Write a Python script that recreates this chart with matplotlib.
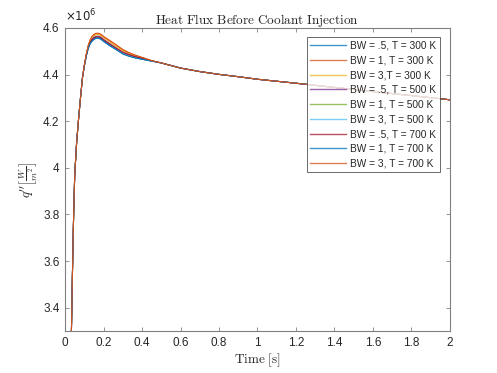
import matplotlib
matplotlib.use("Agg")
import matplotlib.pyplot as plt
from matplotlib.ticker import FuncFormatter, MultipleLocator

plt.rcParams['font.family'] = ['Liberation Sans', 'DejaVu Sans']

# time grid [s]
t_rise = [0.032, 0.035, 0.038, 0.042, 0.045, 0.05, 0.06, 0.07, 0.08, 0.09]
t_mid = [0.10, 0.11, 0.12, 0.13, 0.14, 0.15, 0.16, 0.17, 0.18, 0.19, 0.20,
         0.235, 0.26, 0.30, 0.33, 0.36, 0.40, 0.45]
t_tail = [0.50, 0.60, 0.70, 0.80, 0.90, 1.00, 1.20, 1.40, 1.60, 1.80, 2.00]

# heat flux values (x1e6 W/m^2)
q_rise = [3.26, 3.40, 3.54, 3.71, 3.82, 3.97, 4.11, 4.21, 4.30, 4.385]
q_tail = [4.450, 4.428, 4.413, 4.401, 4.391, 4.380, 4.363, 4.345, 4.327, 4.310, 4.292]

mid_bw05_300 = [4.437, 4.479, 4.512, 4.532, 4.543, 4.551, 4.555, 4.556, 4.554, 4.549, 4.542, 4.522, 4.510, 4.491, 4.481, 4.473, 4.466, 4.458]
mid_bw1_300 = [4.441, 4.487, 4.523, 4.547, 4.562, 4.570, 4.574, 4.575, 4.573, 4.568, 4.561, 4.543, 4.529, 4.506, 4.494, 4.484, 4.473, 4.460]
mid_bw3_300 = [4.440, 4.486, 4.521, 4.545, 4.559, 4.567, 4.571, 4.572, 4.570, 4.565, 4.558, 4.538, 4.524, 4.502, 4.490, 4.480, 4.471, 4.459]
mid_bw05_500 = [4.439, 4.483, 4.517, 4.539, 4.552, 4.560, 4.564, 4.565, 4.563, 4.558, 4.551, 4.531, 4.517, 4.496, 4.486, 4.477, 4.469, 4.459]
mid_bw1_500 = [4.438, 4.481, 4.514, 4.535, 4.547, 4.555, 4.559, 4.560, 4.558, 4.553, 4.546, 4.526, 4.513, 4.490, 4.481, 4.473, 4.466, 4.458]
mid_bw3_500 = [4.438, 4.480, 4.513, 4.533, 4.545, 4.553, 4.557, 4.558, 4.556, 4.551, 4.544, 4.524, 4.512, 4.492, 4.482, 4.474, 4.467, 4.458]
mid_bw05_700 = [4.438, 4.482, 4.515, 4.537, 4.549, 4.557, 4.561, 4.562, 4.560, 4.555, 4.548, 4.529, 4.516, 4.496, 4.486, 4.478, 4.470, 4.459]
mid_bw1_700 = [4.437, 4.480, 4.512, 4.533, 4.544, 4.552, 4.556, 4.557, 4.555, 4.550, 4.543, 4.523, 4.510, 4.488, 4.479, 4.472, 4.466, 4.458]
mid_bw3_700 = [4.442, 4.488, 4.525, 4.549, 4.565, 4.573, 4.577, 4.578, 4.576, 4.571, 4.564, 4.545, 4.531, 4.508, 4.495, 4.485, 4.474, 4.460]

labels = ['BW = .5, T = 300 K', 'BW = 1, T = 300 K', 'BW = 3,T = 300 K',
          'BW = .5, T = 500 K', 'BW = 1, T = 500 K', 'BW = 3, T = 500 K',
          'BW = .5, T = 700 K', 'BW = 1, T = 700 K', 'BW = 3, T = 700 K']
mids = [mid_bw05_300, mid_bw1_300, mid_bw3_300, mid_bw05_500, mid_bw1_500,
        mid_bw3_500, mid_bw05_700, mid_bw1_700, mid_bw3_700]
colors = ['#0072BD', '#D95319', '#EDB120', '#7E2F8E', '#77AC30',
          '#4DBEEE', '#A2142F', '#0072BD', '#D95319']

fig = plt.figure(figsize=(4.97, 3.73), dpi=100)
ax = fig.add_axes([0.131, 0.1126, 0.774, 0.8124])

t_all = t_rise + t_mid + t_tail
for lab, mid, c in zip(labels, mids, colors):
    ax.plot(t_all, q_rise + mid + q_tail, color=c, lw=0.75, label=lab)

ax.set_xlim(0, 2)
ax.set_ylim(3.3, 4.6)
ax.xaxis.set_major_locator(MultipleLocator(0.2))
ax.yaxis.set_major_locator(MultipleLocator(0.2))
fmt = FuncFormatter(lambda v, p: f"{round(v, 3):g}")
ax.xaxis.set_major_formatter(fmt)
ax.yaxis.set_major_formatter(fmt)

axcol = '#262626'
for s in ax.spines.values():
    s.set_color('#808080')
    s.set_linewidth(0.8)
ax.tick_params(direction='in', top=True, right=True, length=3, width=0.6,
               colors='#808080', labelcolor=axcol, labelsize=8.5, pad=4)

ax.set_title(r'$\mathrm{Heat\ Flux\ Before\ Coolant\ Injection}$', fontsize=9.5,
             math_fontfamily='cm', color=axcol, pad=3)
ax.set_xlabel(r'$\mathrm{Time\ [s]}$', fontsize=9.5, math_fontfamily='cm', color=axcol, labelpad=2)
ax.set_ylabel(r"$q''\left[\frac{W}{m^2}\right]$", fontsize=9.5, math_fontfamily='cm', color=axcol, labelpad=2)
ax.text(0.0, 1.012, r'$\times10^{6}$', transform=ax.transAxes, fontsize=8.5,
        color=axcol, ha='left', va='bottom', math_fontfamily='dejavusans')

leg = ax.legend(loc='upper right', bbox_to_anchor=(0.974, 0.970), fontsize=7.3,
                frameon=True, fancybox=False, edgecolor='#262626',
                handlelength=3.5, labelspacing=0.47, borderpad=0.35,
                handletextpad=0.45, borderaxespad=0)
leg.get_frame().set_linewidth(0.6)
for h in leg.get_lines():
    h.set_linewidth(1.0)
    h.set_alpha(0.75)
for txt in leg.get_texts():
    txt.set_color(axcol)

fig.savefig('out.png', dpi=100)
